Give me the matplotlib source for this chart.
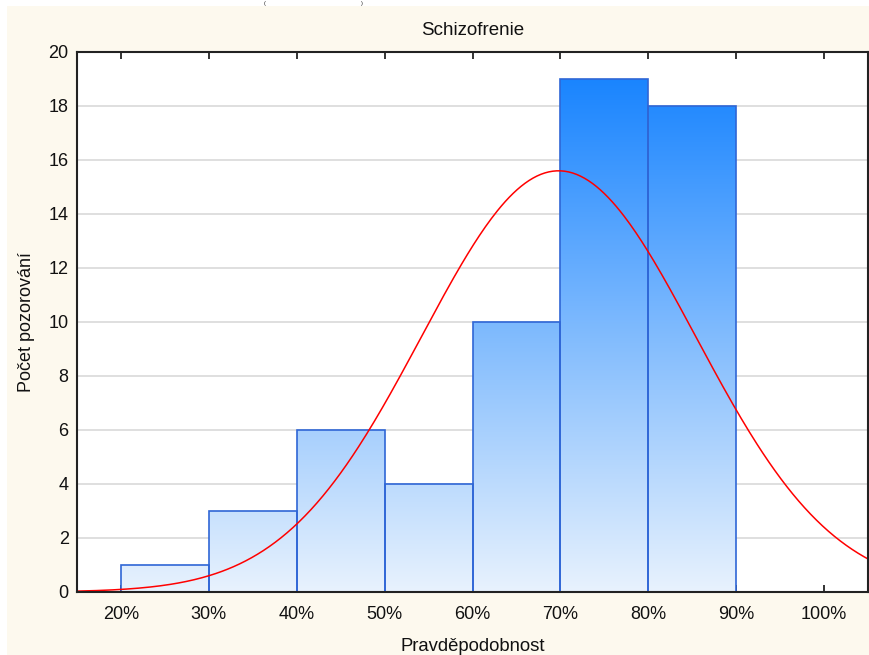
import numpy as np
import matplotlib
matplotlib.use("Agg")
import matplotlib.pyplot as plt
from matplotlib.colors import LinearSegmentedColormap
from matplotlib.patches import Rectangle

plt.rcParams['font.family'] = ['Liberation Sans', 'DejaVu Sans']

# histogram data (bin left edges in %, counts)
bin_left = [20, 30, 40, 50, 60, 70, 80]
counts = [1, 3, 6, 4, 10, 19, 18]
bin_width = 10

# fitted normal curve, parameters
fit_mean = 69.8
fit_sd = 15.6

xticks = [20, 30, 40, 50, 60, 70, 80, 90, 100]
xticklabels = ['20%', '30%', '40%', '50%', '60%', '70%', '80%', '90%', '100%']
yticks = [0, 2, 4, 6, 8, 10, 12, 14, 16, 18, 20]

W, H = 869, 655
fig = plt.figure(figsize=(W / 100, H / 100), dpi=100)
fig.patch.set_facecolor('white')

# cream panel behind the chart
fig.add_artist(Rectangle((7 / W, 0), 1 - 7 / W, (H - 6) / H,
                         transform=fig.transFigure, facecolor='#FDF9EE',
                         edgecolor='none', zorder=0))
# small brackets in the white strip at the very top
fig.text(265 / W, 1 - 3 / H, '(', fontsize=4, ha='center', va='center', color='#222222')
fig.text(362 / W, 1 - 3 / H, ')', fontsize=4, ha='center', va='center', color='#222222')

ax = fig.add_axes([77 / W, (H - 592) / H, (868 - 77) / W, (592 - 52) / H])
ax.set_facecolor('white')

cmap = LinearSegmentedColormap.from_list('bars', ['#E8F2FD', '#0F7FFF'])
grad = np.linspace(0, 1, 256).reshape(-1, 1)

bars = ax.bar(bin_left, counts, width=bin_width, align='edge',
              facecolor='none', edgecolor='#2F66D6', linewidth=1.2, zorder=3)
for b in bars:
    im = ax.imshow(grad, cmap=cmap, origin='lower', aspect='auto',
                   extent=[15, 105, 0, 20], zorder=2, interpolation='bilinear')
    im.set_clip_path(b)

xs = np.linspace(15, 105, 400)
n = sum(counts)
ys = n * bin_width / (fit_sd * np.sqrt(2 * np.pi)) * np.exp(-0.5 * ((xs - fit_mean) / fit_sd) ** 2)
ax.plot(xs, ys, color='#FF0000', linewidth=1.1, zorder=4)

ax.set_xlim(15, 105)
ax.set_ylim(0, 20)
ax.set_xticks(xticks)
ax.set_xticklabels(xticklabels)
ax.set_yticks(yticks)
ax.yaxis.grid(True, color='#DCDCDC', linewidth=1.3, zorder=1)
ax.set_axisbelow(True)
ax.tick_params(axis='x', direction='in', top=True, length=5, width=1.2,
               labelsize=13, pad=10, colors='#111111')
ax.tick_params(axis='y', direction='in', length=0, labelsize=13, pad=6,
               colors='#111111')
for s in ax.spines.values():
    s.set_linewidth(1.5)
    s.set_color('#222222')
    s.set_zorder(5)

ax.set_title('Schizofrenie', fontsize=13.5, pad=12, color='#111111')
ax.set_xlabel('Pravděpodobnost', fontsize=13.3, labelpad=11, color='#111111')
ax.set_ylabel('Počet pozorování', fontsize=13, labelpad=10, color='#111111')

fig.savefig('out.png', dpi=100)
